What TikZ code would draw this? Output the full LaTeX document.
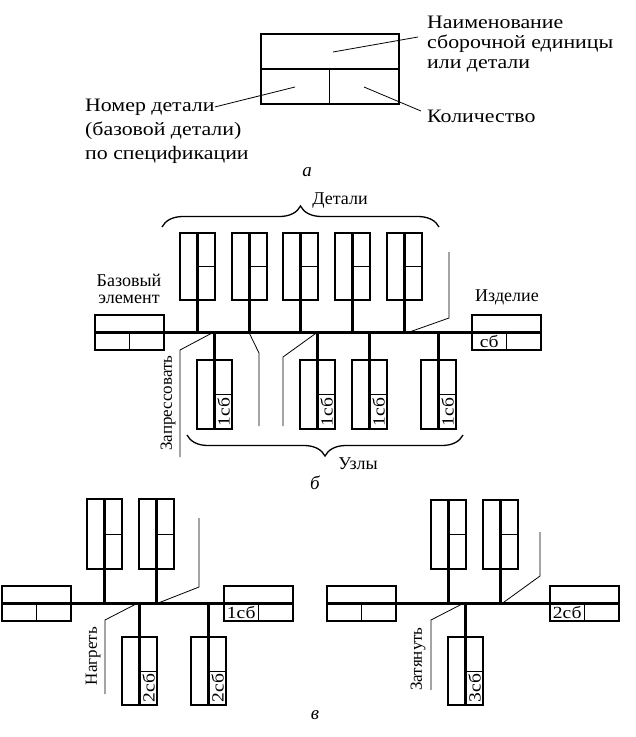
\documentclass[tikz,border=0pt]{standalone}
\usepackage{fontspec}
\setmainfont{Liberation Serif}
\newfontfamily\widefont[FakeStretch=1.15]{Liberation Serif}
\usetikzlibrary{decorations.pathreplacing}
\tikzset{
 thk/.style={line width=2.1pt},
 thn/.style={line width=0.8pt},
 biglbl/.style={font=\widefont\fontsize{19}{22}\selectfont, inner sep=0pt},
 lbl/.style={font=\fontsize{18}{22}\selectfont, inner sep=0pt},
 vlbl/.style={font=\fontsize{17}{20}\selectfont, inner sep=0pt, rotate=90},
 cell/.style={font=\widefont\fontsize{17}{17}\selectfont, inner sep=0pt},
 figlbl/.style={font=\fontsize{19}{20}\selectfont\itshape, inner sep=0pt},
 brc/.style={decorate, decoration={brace, amplitude=21pt}, line width=1.3pt},
}
% upper detail box: x-left, y-top, y-bottom, y-main
\newcommand\updet[4]{%
  \draw[thk] (#1,#2) rectangle (#1+35,#3);
  \draw[thk] (#1+17.5,#2) -- (#1+17.5,#4);
  \draw[thn] (#1+17.5,{(#2+#3)/2}) -- (#1+35,{(#2+#3)/2});
}
% lower unit box: x-left, y-top, y-bottom, y-main, label
\newcommand\lowdet[5]{%
  \draw[thk] (#1,#2) rectangle (#1+35,#3);
  \draw[thk] (#1+17.5,#4) -- (#1+17.5,#3);
  \draw[thn] (#1+17.5,{(#2+#3)/2}) -- (#1+35,{(#2+#3)/2});
  \node[cell, rotate=90] (u#1) at (#1+26.5,{(#2+#3)/2+(#3-#2)/4}) {#5};
}
% horizontal element box: x-left, y-top, label
\newcommand\hbx[3]{%
  \draw[thk] (#1,#2) rectangle (#1+69,#2+35);
  \draw[thk] (#1,#2+17.5) -- (#1+69,#2+17.5);
  \draw[thn] (#1+34.5,#2+17.5) -- (#1+34.5,#2+35);
  \node[cell] (h#1) at (#1+17.25,#2+26.5) {#3};
}
\begin{document}
\begin{tikzpicture}[x=1pt,y=-1pt]
\useasboundingbox (0,0) rectangle (636,737);
% ---------- a ----------
\draw[thk] (261,34) rectangle (399,104);
\draw[thk] (261,69) -- (399,69);
\draw[thn] (329,69) -- (329,104);
\node[biglbl, anchor=west] (n1) at (427,22) {Наименование};
\node[biglbl, anchor=west] (n2) at (427,44) {сборочной единицы};
\node[biglbl, anchor=west] (n3) at (427,66) {или детали};
\node[biglbl, anchor=west] (m1) at (85,107) {Номер детали};
\node[biglbl, anchor=west] (m2) at (85,131) {(базовой детали)};
\node[biglbl, anchor=west] (m3) at (85,155) {по спецификации};
\node[biglbl, anchor=west] (k1) at (427,116) {Количество};
\coordinate (pa1) at (333,52);
\coordinate (pa2) at (418,37);
\coordinate (pb1) at (295,87);
\coordinate (pc1) at (364,87);
\coordinate (pc2) at (421,111);
\draw[thn] (pa1) -- (pa2);
\draw[thn] (m1.east) -- (pb1);
\draw[thn] (pc1) -- (pc2);
\node[figlbl] (fa) at (307,172) {а};
% ---------- b ----------
\draw[brc] (162,227) -- (439,227);
\node[lbl] (det) at (340,201) {Детали};
\foreach \x in {180,232,283,335,387} {\updet{\x}{233}{300}{332.5}}
\foreach \x in {197,300,352,421} {\lowdet{\x}{360}{429}{332.5}{1сб}}
\hbx{95}{315}{}
\hbx{472}{315}{сб}
\draw[thk] (164,332.5) -- (472,332.5);
\node[lbl] (bz1) at (129,280) {Базовый};
\node[lbl] (bz2) at (129,299) {элемент};
\node[lbl] (izd) at (507,297) {Изделие};
\draw[thn] (449,252) -- (449,318) -- (408,332.5);
\draw[thn] (213,332.5) -- (180,350) -- (180,457);
\node[vlbl] (zapr) at (168,403) {Запрессовать};
\draw[thn] (249,332.5) -- (259,353) -- (259,426);
\draw[thn] (317,332.5) -- (283,357) -- (283,426);
\draw[brc] (463,435) -- (187,435);
\node[lbl] (uzl) at (358,464) {Узлы};
\node[figlbl] (fb) at (315,483) {б};
% ---------- v left ----------
\hbx{2}{586}{}
\hbx{224}{586}{1сб}
\draw[thk] (71,603.5) -- (224,603.5);
\foreach \x in {87,139} {\updet{\x}{499}{569}{603.5}}
\foreach \x in {122,191} {\lowdet{\x}{637}{705}{603.5}{2сб}}
\draw[thn] (137,603.5) -- (105,620) -- (105,694);
\node[vlbl] (nagr) at (93,656) {Нагреть};
\draw[thn] (199,518) -- (199,587) -- (157,603.5);
% ---------- v right ----------
\hbx{327}{586}{}
\hbx{550}{586}{2сб}
\draw[thk] (396,603.5) -- (550,603.5);
\foreach \x in {431,483} {\updet{\x}{500}{569}{603.5}}
\lowdet{448}{637}{705}{603.5}{3сб}
\draw[thn] (463,603.5) -- (431,620) -- (431,690);
\node[vlbl] (zat) at (418,659) {Затянуть};
\draw[thn] (540,532) -- (540,576) -- (502,603.5);
\node[figlbl] (fv) at (315,715) {в};
\end{tikzpicture}
\end{document}
